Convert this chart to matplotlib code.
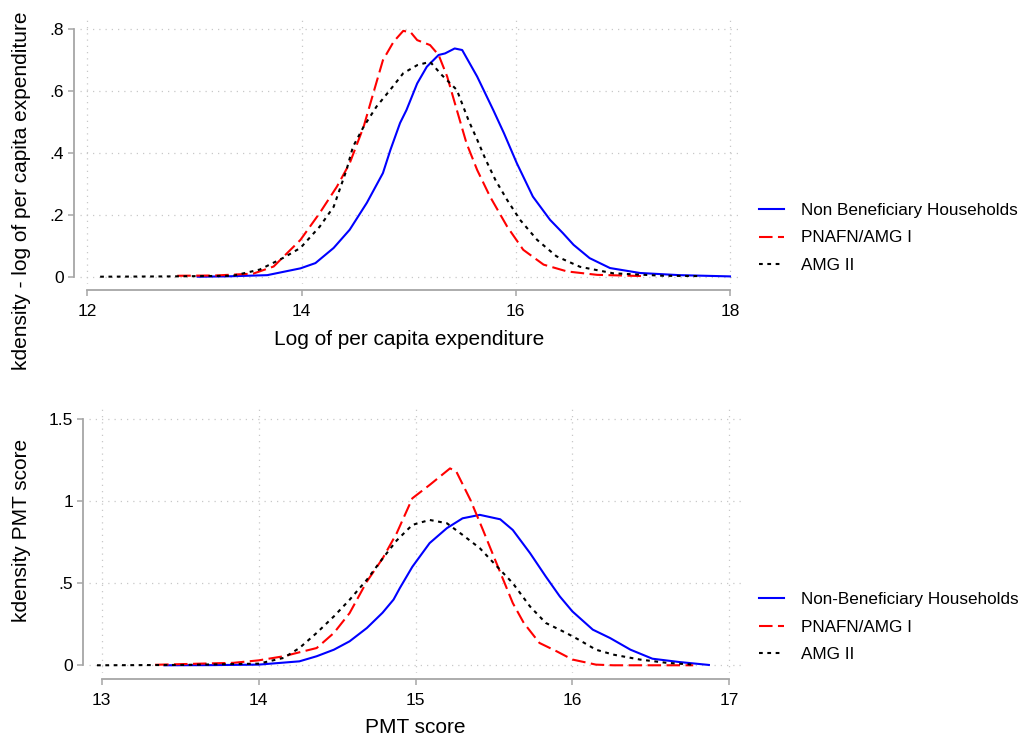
import matplotlib
matplotlib.use("Agg")
import matplotlib.pyplot as plt
from matplotlib.lines import Line2D

plt.rcParams['font.family'] = ['Liberation Sans', 'DejaVu Sans']

# ---------------- Top panel: log of per capita expenditure ----------------
top_nb_x = [13.03, 13.3, 13.68, 13.99, 14.13, 14.30, 14.45, 14.61, 14.76, 14.83, 14.92, 14.98,
            15.08, 15.17, 15.28, 15.34, 15.43, 15.50, 15.64, 15.79, 15.89, 16.01, 16.16, 16.32,
            16.44, 16.54, 16.69, 16.88, 17.16, 17.53, 18.0]
top_nb_y = [0.0, 0.001, 0.005, 0.027, 0.044, 0.093, 0.152, 0.239, 0.335, 0.41, 0.497, 0.539,
            0.625, 0.679, 0.717, 0.722, 0.738, 0.733, 0.647, 0.539, 0.464, 0.367, 0.259, 0.184,
            0.141, 0.103, 0.060, 0.028, 0.012, 0.005, 0.001]

top_p1_x = [12.84, 13.2, 13.55, 13.74, 13.99, 14.17, 14.33, 14.45, 14.58, 14.67, 14.76, 14.86,
            14.95, 15.02, 15.08, 15.20, 15.28, 15.36, 15.45, 15.54, 15.64, 15.76, 15.92, 16.07,
            16.26, 16.48, 16.76, 17.19]
top_p1_y = [0.003, 0.004, 0.010, 0.033, 0.119, 0.206, 0.291, 0.367, 0.485, 0.593, 0.70, 0.76,
            0.795, 0.79, 0.765, 0.749, 0.717, 0.647, 0.539, 0.432, 0.345, 0.259, 0.162, 0.087,
            0.039, 0.017, 0.006, 0.002]

top_a2_x = [12.12, 12.8, 13.36, 13.61, 13.83, 13.99, 14.17, 14.30, 14.42, 14.48, 14.58, 14.70,
            14.83, 14.95, 15.08, 15.20, 15.31, 15.45, 15.56, 15.64, 15.72, 15.81, 15.92, 16.04,
            16.20, 16.38, 16.60, 16.91, 17.38, 17.72]
top_a2_y = [0.0, 0.001, 0.003, 0.023, 0.061, 0.093, 0.162, 0.226, 0.345, 0.42, 0.485, 0.55,
            0.605, 0.658, 0.684, 0.695, 0.652, 0.604, 0.505, 0.443, 0.378, 0.313, 0.248, 0.184,
            0.119, 0.066, 0.032, 0.011, 0.003, 0.002]

# ---------------- Bottom panel: PMT score ----------------
bot_nb_x = [13.4, 13.7, 14.0, 14.26, 14.37, 14.48, 14.58, 14.69, 14.79, 14.86, 14.90, 14.98,
            15.09, 15.20, 15.30, 15.41, 15.54, 15.62, 15.73, 15.83, 15.92, 16.0, 16.13, 16.24,
            16.37, 16.51, 16.68, 16.87]
bot_nb_y = [0.0, 0.001, 0.004, 0.024, 0.055, 0.095, 0.146, 0.227, 0.32, 0.40, 0.47, 0.60,
            0.744, 0.835, 0.895, 0.916, 0.889, 0.824, 0.683, 0.541, 0.419, 0.328, 0.217, 0.166,
            0.095, 0.04, 0.02, 0.002]

bot_p1_x = [13.34, 13.84, 14.0, 14.16, 14.26, 14.37, 14.48, 14.58, 14.69, 14.79, 14.88, 14.98,
            15.09, 15.22, 15.26, 15.35, 15.43, 15.49, 15.62, 15.69, 15.79, 15.90, 16.0, 16.15,
            16.26, 16.77]
bot_p1_y = [0.003, 0.015, 0.03, 0.055, 0.079, 0.105, 0.197, 0.318, 0.51, 0.65, 0.804, 1.017,
            1.098, 1.199, 1.18, 1.007, 0.824, 0.683, 0.379, 0.258, 0.136, 0.085, 0.035, 0.004,
            0.0, 0.0]

bot_a2_x = [12.97, 13.5, 14.0, 14.16, 14.26, 14.37, 14.48, 14.58, 14.69, 14.79, 14.88, 14.98,
            15.09, 15.20, 15.30, 15.41, 15.52, 15.62, 15.73, 15.83, 15.96, 16.04, 16.15, 16.26,
            16.43, 16.60, 16.77]
bot_a2_y = [0.0, 0.002, 0.01, 0.045, 0.105, 0.197, 0.298, 0.399, 0.521, 0.65, 0.76, 0.855,
            0.885, 0.865, 0.794, 0.713, 0.601, 0.5, 0.358, 0.258, 0.197, 0.156, 0.095, 0.065,
            0.035, 0.015, 0.004]

top_labels = ["Non Beneficiary Households", "PNAFN/AMG I", "AMG II"]
bot_labels = ["Non-Beneficiary Households", "PNAFN/AMG I", "AMG II"]

top_xticks = [12, 14, 16, 18]
top_yticks = [0, 0.2, 0.4, 0.6, 0.8]
top_yticklabels = ["0", ".2", ".4", ".6", ".8"]
bot_xticks = [13, 14, 15, 16, 17]
bot_yticks = [0, 0.5, 1, 1.5]
bot_yticklabels = ["0", ".5", "1", "1.5"]

W, H = 1019, 738
fig = plt.figure(figsize=(W / 100, H / 100), dpi=100)

def px_axes(l, t, r, b):
    return fig.add_axes([l / W, 1 - b / H, (r - l) / W, (b - t) / H])

LW = 1.5
styles = [dict(color="#0000ff", linestyle="-", lw=LW),
          dict(color="#ff0000", linestyle=(0, (6.5, 2.6)), lw=LW),
          dict(color="#000000", linestyle=(0, (1.8, 2.2)), lw=LW)]

def style_axes(ax, xlim, ylim, xticks, yticks, yticklabels, xb, yb):
    ax.set_xlim(*xlim)
    ax.set_ylim(*ylim)
    ax.set_xticks(xticks)
    ax.set_xticklabels([str(t) for t in xticks])
    ax.set_yticks(yticks)
    ax.set_yticklabels(yticklabels)
    for s in ["top", "right"]:
        ax.spines[s].set_visible(False)
    ax.spines["left"].set_position(("outward", 4.5))
    ax.spines["bottom"].set_position(("outward", 4.5))
    ax.spines["left"].set_bounds(*yb)
    ax.spines["bottom"].set_bounds(*xb)
    for s in ["left", "bottom"]:
        ax.spines[s].set_color("#a6a6a6")
        ax.spines[s].set_linewidth(1.3)
    ax.tick_params(axis="both", colors="#a6a6a6", length=4, width=1.1,
                   labelcolor="black", labelsize=12.5, pad=3)
    ax.tick_params(axis="x", pad=6)
    ax.grid(True, color="#c8c8c8", linestyle=(0, (1, 4)), linewidth=0.9)
    ax.set_axisbelow(True)

# Top axes
ax1 = px_axes(80, 16, 738, 284)
for xs, ys, st in zip([top_nb_x, top_p1_x, top_a2_x], [top_nb_y, top_p1_y, top_a2_y], styles):
    ax1.plot(xs, ys, **st)
style_axes(ax1, (11.932, 18.075), (-0.0236, 0.843), top_xticks, top_yticks, top_yticklabels,
           (12, 18), (0, 0.8))
ax1.set_xlabel("Log of per capita expenditure", fontsize=15, labelpad=8)

# Bottom axes
ax2 = px_axes(89, 405, 741, 673)
for xs, ys, st in zip([bot_nb_x, bot_p1_x, bot_a2_x], [bot_nb_y, bot_p1_y, bot_a2_y], styles):
    ax2.plot(xs, ys, **st)
style_axes(ax2, (12.919, 17.0746), (-0.047, 1.585), bot_xticks, bot_yticks, bot_yticklabels,
           (13, 17), (0, 1.5))
ax2.set_xlabel("PMT score", fontsize=15, labelpad=7)

fig.text(22 / W, 1 - 191 / H, "kdensity - log of per capita expenditure", rotation=90,
         fontsize=15, ha="center", va="center")
fig.text(22 / W, 1 - 530 / H, "kdensity PMT score", rotation=90,
         fontsize=15, ha="center", va="center")

def make_handles(labels):
    return [Line2D([0], [0], **st) for st in styles]

leg_kw = dict(loc="center left", frameon=False, fontsize=12.3, handlelength=1.47,
              handletextpad=1.0, labelspacing=0.75, borderaxespad=0, borderpad=0)
fig.legend(make_handles(top_labels), top_labels, bbox_to_anchor=(759 / W, 1 - 238 / H), **leg_kw)
fig.legend(make_handles(bot_labels), bot_labels, bbox_to_anchor=(759 / W, 1 - 627 / H), **leg_kw)

fig.savefig("out.png", dpi=100, facecolor="white")
